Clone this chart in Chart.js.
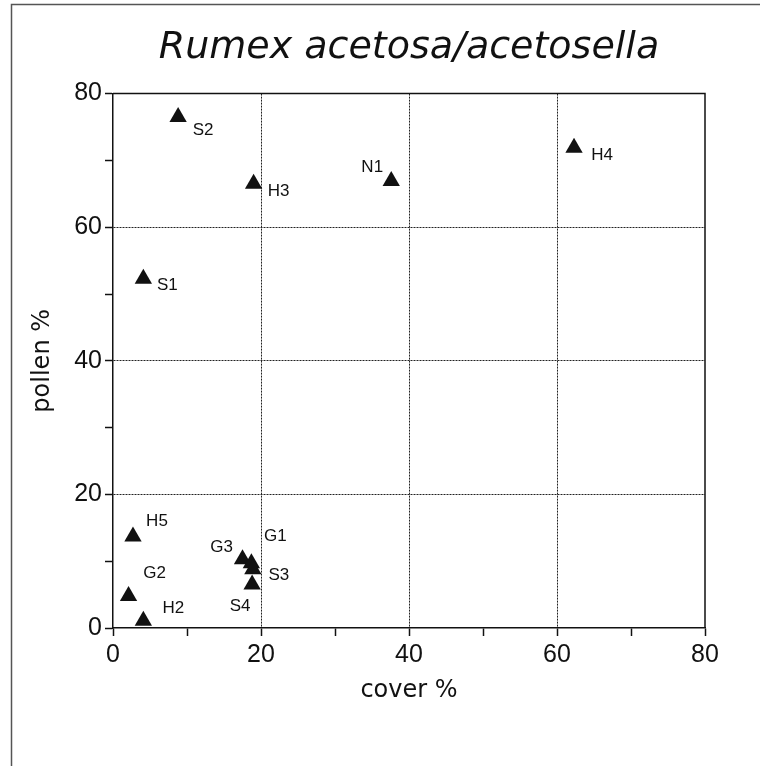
<!DOCTYPE html>
<html>
<head>
<meta charset="utf-8">
<script src="https://cdn.jsdelivr.net/npm/chart.js@4"></script>
<style>
  html, body { margin: 0; padding: 0; background: #fff; }
  #wrap { width: 760px; height: 766px; position: relative; }
</style>
</head>
<body>
<div id="wrap"><canvas id="chart" width="760" height="766"></canvas></div>
<script>
// sample sites, vegetation cover % and pollen %
const sites  = ['S2', 'H3', 'N1', 'H4', 'S1', 'H5', 'G2', 'H2', 'G3', 'G1', 'S3', 'S4'];
const cover  = [8.8, 19.0, 37.6, 62.3, 4.1, 2.7, 2.1, 4.1, 17.5, 18.7, 18.9, 18.8];
const pollen = [76.5, 66.5, 66.9, 71.9, 52.3, 13.7, 4.8, 1.1, 10.3, 9.7, 8.8, 6.5];
const axisTicks = [0, 20, 40, 60, 80];

// where each site label sits relative to its marker (px)
const labelPlacement = [
  [25, 13], [25, 8], [-19, -14], [28, 8], [24, 7], [24, -15],
  [26, -23], [30, -12], [-21, -12], [24, -27], [26, 6], [-12, 22]
];

const points = sites.map((s, i) => ({ x: cover[i], y: pollen[i] }));

const isMajor = v => axisTicks.includes(v);
const gridColor = ctx => {
  const v = ctx.tick && ctx.tick.value;
  return (isMajor(v) && v !== 0 && v !== 80) ? '#222' : 'rgba(0,0,0,0)';
};

const frame = {
  id: 'frame',
  beforeDraw(chart) {
    const c = chart.ctx;
    c.save();
    c.strokeStyle = '#555';
    c.lineWidth = 1.5;
    c.beginPath();
    c.moveTo(11.5, 766);
    c.lineTo(11.5, 4.5);
    c.lineTo(760, 4.5);
    c.stroke();
    c.restore();
  },
  afterDraw(chart) {
    const a = chart.chartArea;
    const c = chart.ctx;
    c.save();
    c.strokeStyle = '#111';
    c.lineWidth = 1.5;
    c.beginPath();
    c.moveTo(a.left, a.top);
    c.lineTo(a.right, a.top);
    c.lineTo(a.right, a.bottom);
    c.stroke();
    c.restore();
  }
};

const siteLabels = {
  id: 'siteLabels',
  afterDatasetsDraw(chart) {
    const c = chart.ctx;
    const meta = chart.getDatasetMeta(0);
    c.save();
    c.fillStyle = '#111';
    c.font = '17px "Liberation Sans", Arial, sans-serif';
    c.textAlign = 'center';
    c.textBaseline = 'middle';
    meta.data.forEach((pt, i) => {
      const [dx, dy] = labelPlacement[i];
      c.fillText(sites[i], pt.x + dx, pt.y + dy);
    });
    c.restore();
  }
};

new Chart(document.getElementById('chart'), {
  type: 'scatter',
  data: {
    datasets: [{
      label: 'Rumex acetosa/acetosella',
      data: points,
      pointStyle: 'triangle',
      pointRadius: 10,
      pointHoverRadius: 10,
      backgroundColor: '#111',
      borderColor: '#111',
      borderWidth: 0
    }]
  },
  options: {
    responsive: false,
    animation: false,
    layout: { padding: { left: 0, right: 55, top: 0, bottom: 0 } },
    plugins: {
      legend: { display: false },
      tooltip: { enabled: false },
      title: {
        display: true,
        fullSize: false,
        text: 'Rumex acetosa/acetosella',
        color: '#111',
        font: { family: '"DejaVu Sans", sans-serif', size: 38, style: 'italic', weight: 'normal', lineHeight: 1.2 },
        padding: { top: 25, bottom: 23 }
      }
    },
    scales: {
      x: {
        type: 'linear',
        min: 0,
        max: 80,
        afterFit: scale => { scale.height = 138; },
        ticks: {
          stepSize: 10,
          autoSkip: false,
          maxRotation: 0,
          padding: 4,
          color: '#111',
          font: { family: '"Liberation Sans", Arial, sans-serif', size: 25 },
          callback: v => isMajor(v) ? String(v) : ''
        },
        grid: {
          color: gridColor,
          lineWidth: 1,
          tickColor: '#111',
          tickLength: 8,
          tickWidth: 1.5
        },
        border: { color: '#111', width: 1.5, dash: [2, 1] },
        title: {
          display: true,
          text: 'cover %',
          color: '#111',
          font: { family: '"DejaVu Sans", sans-serif', size: 24 },
          padding: { top: 0, bottom: 61 }
        }
      },
      y: {
        type: 'linear',
        min: 0,
        max: 80,
        afterFit: scale => { scale.width = 113; },
        ticks: {
          stepSize: 10,
          autoSkip: false,
          padding: 3,
          color: '#111',
          font: { family: '"Liberation Sans", Arial, sans-serif', size: 25 },
          callback: v => isMajor(v) ? String(v) : ''
        },
        grid: {
          color: gridColor,
          lineWidth: 1,
          tickColor: '#111',
          tickLength: 8,
          tickWidth: 1.5
        },
        border: { color: '#111', width: 1.5, dash: [2, 1] },
        title: {
          display: true,
          text: 'pollen %',
          color: '#111',
          font: { family: '"DejaVu Sans", sans-serif', size: 24 },
          padding: { top: 28, bottom: 0 }
        }
      }
    }
  },
  plugins: [frame, siteLabels]
});
</script>
</body>
</html>
